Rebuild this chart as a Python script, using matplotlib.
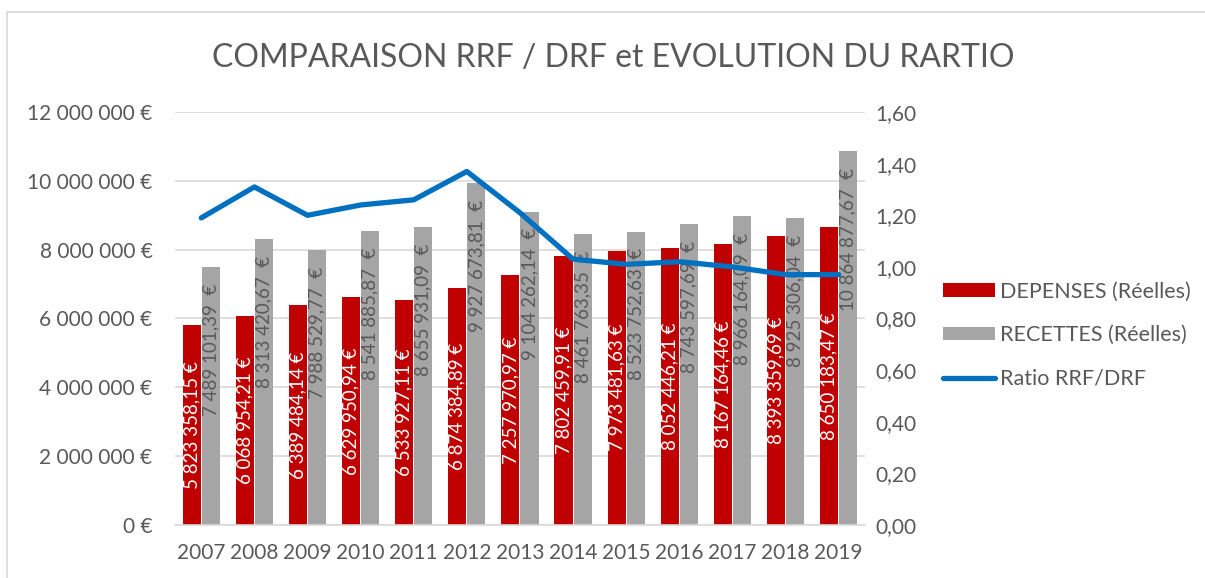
import matplotlib
matplotlib.use("Agg")
import matplotlib.pyplot as plt
from matplotlib.patches import Rectangle
import numpy as np

years = ["2007", "2008", "2009", "2010", "2011", "2012", "2013",
         "2014", "2015", "2016", "2017", "2018", "2019"]
depenses = [5823358.15, 6068954.21, 6389484.14, 6629950.94, 6533927.11, 6874384.89,
            7257970.97, 7802459.91, 7973481.63, 8052446.21, 8167164.46, 8393359.69,
            8650183.47]
recettes = [7489101.39, 8313420.67, 7988529.77, 8541885.87, 8655931.09, 9927673.81,
            9104262.14, 8461763.35, 8523752.63, 8743597.69, 8966164.09, 8925306.04,
            10864877.67]
ratio = [1.19, 1.31, 1.20, 1.24, 1.26, 1.37, 1.21, 1.03, 1.01, 1.02, 1.00, 0.97, 0.97]

TXT = "#595959"
plt.rcParams["font.family"] = ["Lato", "DejaVu Sans"]


def fmt_eur(v, sep=" "):
    # French style: space thousands, comma decimals
    s = f"{v:,.2f}".replace(",", " ").replace(".", ",")
    return s + sep + "€"


def fmt_axis(v, _pos=None):
    return f"{int(v):,}".replace(",", " ") + " €"


fig = plt.figure(figsize=(12.05, 5.78), dpi=100)
ax = fig.add_axes([0.145, 0.092, 0.573, 0.714])
ax2 = ax.twinx()

x = np.arange(len(years))
w = 0.34
ax.bar(x - 0.18, depenses, w, color="#C00000", label="DEPENSES (Réelles)", zorder=2)
ax.bar(x + 0.18, recettes, w, color="#A5A5A5", label="RECETTES (Réelles)", zorder=2)

for i in range(len(years)):
    # red labels centred in the bar, grey ones at the inside end
    ax.text(x[i] - 0.18, depenses[i] / 2, fmt_eur(depenses[i]), rotation=90,
            ha="center", va="center", color="white", fontsize=13.5, zorder=3)
    ax.text(x[i] + 0.18, recettes[i] - 480000, fmt_eur(recettes[i], "  "), rotation=90,
            ha="center", va="top", color=TXT, fontsize=13.5, zorder=3)

ax2.plot(x, ratio, color="#0070C0", linewidth=3.8, solid_capstyle="round",
         label="Ratio RRF/DRF", zorder=4)

ax.set_xlim(-0.5, len(years) - 0.5)
ax.set_ylim(0, 12000000)
ax.set_yticks(np.arange(0, 12000001, 2000000))
ax.yaxis.set_major_formatter(fmt_axis)
ax.set_xticks(x)
ax.set_xticklabels(years)
ax2.set_ylim(0, 1.6)
ax2.set_yticks(np.arange(0, 1.61, 0.2))
ax2.set_yticklabels([f"{v:.2f}".replace(".", ",") for v in np.arange(0, 1.61, 0.2)])

ax.grid(axis="y", color="#D9D9D9", linewidth=1.2, zorder=0)
ax.set_axisbelow(True)
for a in (ax, ax2):
    for s in a.spines.values():
        s.set_visible(False)
    a.tick_params(length=0, labelsize=15, labelcolor=TXT)
ax.spines["bottom"].set_visible(True)
ax.spines["bottom"].set_color("#D9D9D9")
ax.spines["bottom"].set_linewidth(1.2)
ax.tick_params(axis="y", pad=16)
ax.tick_params(axis="x", pad=13)
ax2.tick_params(axis="y", pad=7)

fig.text(0.509, 0.9, "COMPARAISON RRF / DRF et EVOLUTION DU RARTIO",
         ha="center", va="center", fontsize=23, color=TXT)

h1, l1 = ax.get_legend_handles_labels()
h2, l2 = ax2.get_legend_handles_labels()
fig.legend(h1 + h2, l1 + l2, loc="center left", bbox_to_anchor=(0.7826, 0.42),
           frameon=False, fontsize=15.5, labelcolor=TXT, handlelength=2.4,
           handleheight=0.6, handletextpad=0.25, labelspacing=1.1, borderpad=0,
           borderaxespad=0)

fig.patches.append(Rectangle((0.006, -0.01), 1.0, 0.99, transform=fig.transFigure,
                             fill=False, edgecolor="#D9D9D9", linewidth=1.2))

fig.savefig("out.png", dpi=100)
